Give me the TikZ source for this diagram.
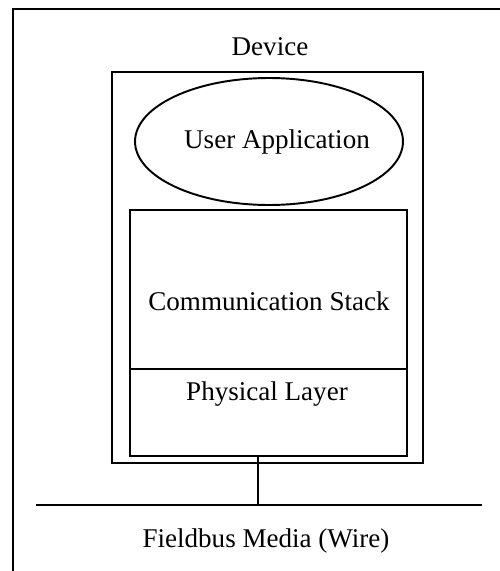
\documentclass[tikz,border=0pt]{standalone}
\usepackage{fontspec}
\setmainfont{Liberation Serif}
\usetikzlibrary{shapes.geometric}

\begin{document}
\begin{tikzpicture}[x=0.02cm, y=-0.02cm, line width=1.1pt,
    every node/.style={font=\fontsize{15.4}{18}\selectfont},
    block/.style={draw, minimum width=5.54cm, inner sep=0pt}]
  \useasboundingbox (0,0) rectangle (500,571);

  % Outer frame
  \draw (13,571) -- (13,9) -- (500,9);

  % Device nodes
  \node (devlabel) at (270,47) {Device};
  \node[draw, minimum width=6.22cm, minimum height=7.82cm, inner sep=0pt] (device) at (267.5,267.5) {};

  % Application
  \node[draw, ellipse, minimum width=5.36cm, minimum height=2.54cm, inner sep=0pt] (app) at (269,141.5) {};
  \node (applabel) at (277,142) {User Application};

  % Stack nodes
  \node[block, minimum height=3.18cm] (stack) at (268.5,289.5) {};
  \node (stacklabel) at (269,301) {Communication Stack};
  \node[block, minimum height=1.74cm] (phys) at (268.5,412.5) {};
  \node (physlabel) at (267,394) {Physical Layer};

  % Fieldbus
  \coordinate (busL) at (36,505);
  \coordinate (busR) at (482,505);
  \draw (busL) -- (busR);
  \coordinate (tap) at (258,505);
  \draw (tap |- phys.south) -- (tap);
  \node (media) at (266,541) {Fieldbus Media (Wire)};
\end{tikzpicture}
\end{document}
